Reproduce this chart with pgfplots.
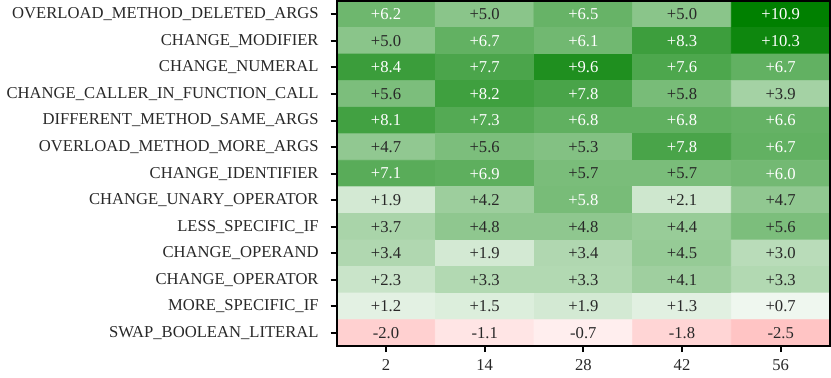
\documentclass[border=0pt]{standalone}
\usepackage{fontspec}
\setmainfont{Liberation Serif}
\usepackage{pgfplots}
\usepackage{pgfplotstable}
\pgfplotsset{compat=1.18}

\definecolor{txtdark}{RGB}{40,40,40}

% x = column (2,14,28,42,56), y = row (top to bottom), v = value, w = 1 for white text
\pgfplotstableread{
x y v w
0 0 6.2 1
1 0 5.0 0
2 0 6.5 1
3 0 5.0 0
4 0 10.9 1
0 1 5.0 0
1 1 6.7 1
2 1 6.1 1
3 1 8.3 1
4 1 10.3 1
0 2 8.4 1
1 2 7.7 1
2 2 9.6 1
3 2 7.6 1
4 2 6.7 1
0 3 5.6 0
1 3 8.2 1
2 3 7.8 1
3 3 5.8 0
4 3 3.9 0
0 4 8.1 1
1 4 7.3 1
2 4 6.8 1
3 4 6.8 1
4 4 6.6 1
0 5 4.7 0
1 5 5.6 0
2 5 5.3 0
3 5 7.8 1
4 5 6.7 1
0 6 7.1 1
1 6 6.9 1
2 6 5.7 0
3 6 5.7 0
4 6 6.0 1
0 7 1.9 0
1 7 4.2 0
2 7 5.8 1
3 7 2.1 0
4 7 4.7 0
0 8 3.7 0
1 8 4.8 0
2 8 4.8 0
3 8 4.4 0
4 8 5.6 0
0 9 3.4 0
1 9 1.9 0
2 9 3.4 0
3 9 4.5 0
4 9 3.0 0
0 10 2.3 0
1 10 3.3 0
2 10 3.3 0
3 10 4.1 0
4 10 3.3 0
0 11 1.2 0
1 11 1.5 0
2 11 1.9 0
3 11 1.3 0
4 11 0.7 0
0 12 -2.0 0
1 12 -1.1 0
2 12 -0.7 0
3 12 -1.8 0
4 12 -2.5 0
}\heat

\begin{document}
\begin{tikzpicture}
\begin{axis}[
    scale only axis,
    width=246.5pt, height=172.5pt,
    xmin=-0.5, xmax=4.5, ymin=-0.5, ymax=12.5,
    enlargelimits=false,
    y dir=reverse,
    axis on top,
    xtick={0,1,2,3,4},
    xticklabels={2,14,28,42,56},
    ytick={0,...,12},
    yticklabels={OVERLOAD\_METHOD\_DELETED\_ARGS, CHANGE\_MODIFIER, CHANGE\_NUMERAL,
        CHANGE\_CALLER\_IN\_FUNCTION\_CALL, DIFFERENT\_METHOD\_SAME\_ARGS,
        OVERLOAD\_METHOD\_MORE\_ARGS, CHANGE\_IDENTIFIER, CHANGE\_UNARY\_OPERATOR,
        LESS\_SPECIFIC\_IF, CHANGE\_OPERAND, CHANGE\_OPERATOR, MORE\_SPECIFIC\_IF,
        SWAP\_BOOLEAN\_LITERAL},
    tick align=outside,
    xtick pos=bottom, ytick pos=left,
    major tick length=3pt,
    tick style={black, line width=1pt},
    axis line style={black, line width=1pt},
    ticklabel style={font=\fontsize{8.3}{10}\selectfont, text=txtdark},
    yticklabel style={xshift=-2.5pt},
    xticklabel style={yshift=-0.3pt},
    colormap={rwg}{rgb255(0)=(255,0,0) rgb255(1)=(255,255,255) rgb255(2)=(0,128,0)},
    point meta min=-10.9, point meta max=10.9,
    /pgf/number format/assume math mode=true,
]
\addplot[matrix plot*, mesh/cols=5, point meta=explicit] table[x=x, y=y, meta=v] {\heat};

\addplot[only marks, mark=none, point meta=explicit,
    restrict expr to domain={\thisrow{w}}{0.5:1.5},
    nodes near coords={\pgfmathprintnumber[fixed,fixed zerofill,precision=1,showpos]{\pgfplotspointmeta}},
    every node near coord/.style={anchor=center, text=white, font=\fontsize{8.3}{10}\selectfont}]
    table[x=x, y=y, meta=v] {\heat};

\addplot[only marks, mark=none, point meta=explicit,
    restrict expr to domain={\thisrow{w}}{-0.5:0.5},
    nodes near coords={\pgfmathprintnumber[fixed,fixed zerofill,precision=1,showpos]{\pgfplotspointmeta}},
    every node near coord/.style={anchor=center, text=txtdark, font=\fontsize{8.3}{10}\selectfont}]
    table[x=x, y=y, meta=v] {\heat};
\end{axis}
\end{tikzpicture}
\end{document}
